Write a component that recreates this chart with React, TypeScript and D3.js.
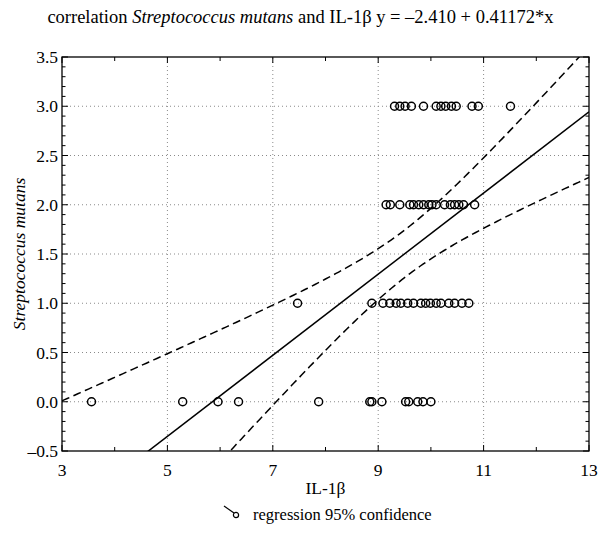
import React from 'react';
import * as d3 from 'd3';

// IL-1β values of each Streptococcus mutans score (0..3)
const score0 = [3.56, 5.29, 5.96, 6.35, 7.87, 8.84, 8.88, 9.07, 9.52, 9.58, 9.75, 9.85, 10.0];
const score1 = [7.47, 8.88, 9.09, 9.22, 9.34, 9.43, 9.56, 9.67, 9.81, 9.9, 9.99, 10.1, 10.19, 10.34, 10.45, 10.59, 10.72];
const score2 = [9.15, 9.23, 9.41, 9.6, 9.67, 9.77, 9.86, 9.96, 10.02, 10.1, 10.26, 10.37, 10.45, 10.53, 10.62, 10.83];
const score3 = [9.31, 9.41, 9.51, 9.63, 9.86, 10.1, 10.19, 10.28, 10.39, 10.48, 10.78, 10.9, 11.51];
const scores = [0, 1, 2, 3];

const intercept = -2.41;
const slope = 0.41172;
const tCrit = 2.002;

const xTicks = [3, 5, 7, 9, 11, 13];
const yTicks = [-0.5, 0, 0.5, 1, 1.5, 2, 2.5, 3, 3.5];

const W = 599;
const H = 545;
const margin = { left: 62, right: 10, top: 57, bottom: 94 };
const font = '"Liberation Serif", "Times New Roman", serif';

const points = [score0, score1, score2, score3].flatMap((xs, i) => xs.map((x) => ({ x, y: scores[i] })));

const App = () => {
  const x = d3.scaleLinear().domain([3, 13]).range([margin.left, W - margin.right]);
  const y = d3.scaleLinear().domain([-0.5, 3.5]).range([H - margin.bottom, margin.top]);
  const [x0, x1] = x.range();
  const [y0, y1] = y.range();

  // confidence band of the fitted line
  const n = points.length;
  const xMean = d3.mean(points, (d) => d.x) as number;
  const sxx = d3.sum(points, (d) => (d.x - xMean) ** 2);
  const sse = d3.sum(points, (d) => (d.y - (intercept + slope * d.x)) ** 2);
  const s = Math.sqrt(sse / (n - 2));
  const xs = d3.range(3, 13.001, 0.05);
  const half = (v: number) => tCrit * s * Math.sqrt(1 / n + (v - xMean) ** 2 / sxx);

  const line = d3.line<[number, number]>().x((d) => x(d[0])).y((d) => y(d[1]));
  const fit = line([[3, intercept + slope * 3], [13, intercept + slope * 13]]);
  const upper = line(xs.map((v) => [v, intercept + slope * v + half(v)] as [number, number]));
  const lower = line(xs.map((v) => [v, intercept + slope * v - half(v)] as [number, number]));

  const xMinor = d3.range(3, 13.001, 1);
  const yMinor = d3.range(-0.5, 3.5001, 0.1);
  const fmt = (v: number) => d3.format('.1f')(v).replace('−', '–').replace('-', '–');

  return (
    <div style={{ position: 'absolute', left: 0, top: 0 }}>
      <svg width={W} height={H} style={{ display: 'block', background: '#fff' }} fontFamily={font}>
        <defs>
          <clipPath id="plot">
            <rect x={x0} y={y1} width={x1 - x0} height={y0 - y1} />
          </clipPath>
        </defs>

        <text x={W / 2 + 1} y={23} textAnchor="middle" fontSize={18.5}>
          correlation <tspan fontStyle="italic">Streptococcus mutans</tspan> and IL-1β y = –2.410 + 0.41172*x
        </text>

        {/* grid */}
        <g stroke="#8a8a8a" strokeWidth={1} strokeDasharray="1,3">
          {xTicks.slice(1, -1).map((t) => (
            <line key={'gx' + t} x1={x(t)} x2={x(t)} y1={y0} y2={y1} />
          ))}
          {yTicks.slice(1, -1).map((t) => (
            <line key={'gy' + t} x1={x0} x2={x1} y1={y(t)} y2={y(t)} />
          ))}
        </g>

        {/* ticks, all inward */}
        <g stroke="#000" strokeWidth={1}>
          {xMinor.map((t) => {
            const len = xTicks.includes(t) ? 6 : 4;
            return (
              <g key={'tx' + t}>
                <line x1={x(t)} x2={x(t)} y1={y0} y2={y0 - len} />
                <line x1={x(t)} x2={x(t)} y1={y1} y2={y1 + len} />
              </g>
            );
          })}
          {yMinor.map((t, i) => {
            const len = i % 5 === 0 ? 6 : 3.5;
            return (
              <g key={'ty' + i}>
                <line x1={x0} x2={x0 + len} y1={y(t)} y2={y(t)} />
                <line x1={x1} x2={x1 - len} y1={y(t)} y2={y(t)} />
              </g>
            );
          })}
        </g>

        <g clipPath="url(#plot)" fill="none" stroke="#000" strokeWidth={1.5}>
          <path d={fit ?? ''} />
          <path d={upper ?? ''} strokeDasharray="8,4.5" />
          <path d={lower ?? ''} strokeDasharray="8,4.5" />
        </g>

        <g fill="none" stroke="#000" strokeWidth={1.5}>
          {points.map((d, i) => (
            <circle key={i} cx={x(d.x)} cy={y(d.y)} r={4} />
          ))}
        </g>

        <rect x={x0} y={y1} width={x1 - x0} height={y0 - y1} fill="none" stroke="#000" strokeWidth={1.3} />

        <g fontSize={17.5} textAnchor="end">
          {yTicks.map((t) => (
            <text key={'ly' + t} x={x0 - 4} y={y(t) + 6}>
              {fmt(t)}
            </text>
          ))}
        </g>
        <g fontSize={17.5} textAnchor="middle">
          {xTicks.map((t) => (
            <text key={'lx' + t} x={x(t)} y={y0 + 25}>
              {t}
            </text>
          ))}
        </g>

        <text x={(x0 + x1) / 2} y={y0 + 43} textAnchor="middle" fontSize={17.5}>
          IL-1β
        </text>
        <text
          transform={`translate(25,${(y0 + y1) / 2}) rotate(-90)`}
          textAnchor="middle"
          fontSize={17.5}
          fontStyle="italic"
        >
          Streptococcus mutans
        </text>

        {/* legend */}
        <g transform="translate(236,512)">
          <line x1={-12} y1={-6} x2={-2} y2={1} stroke="#000" strokeWidth={1.2} />
          <circle cx={0} cy={3} r={2.6} fill="none" stroke="#000" strokeWidth={1.2} />
          <text x={17} y={8} fontSize={16.5}>
            regression 95% confidence
          </text>
        </g>
      </svg>
    </div>
  );
};

export default App;
